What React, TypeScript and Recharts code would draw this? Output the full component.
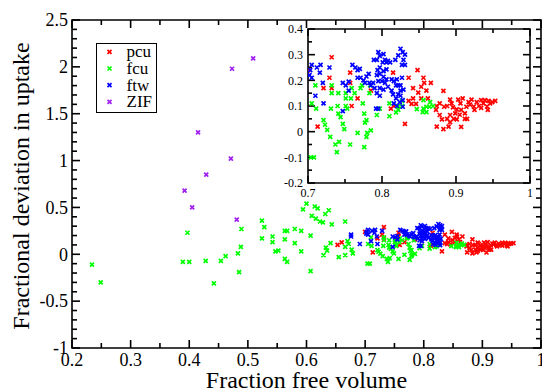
import React from 'react';
import { ScatterChart, Scatter, XAxis, YAxis, Legend, CartesianGrid, ReferenceArea } from 'recharts';

const SERIF = '"Liberation Serif", "Times New Roman", serif';

// data: [fraction free volume, fractional deviation]
const pcu = [
  [0.653, 0.1], [0.66, 0.128], [0.7, 0.24], [0.713, 0.02], [0.721, 0.17], [0.729, 0.21], [0.732, 0.29],
  [0.732, 0.17], [0.757, 0.23], [0.757, 0.19], [0.759, 0.1], [0.767, 0.13], [0.785, 0.16], [0.815, 0.23],
  [0.812, 0.09], [0.816, 0.1], [0.831, 0.03], [0.836, 0.21], [0.848, 0.24], [0.842, 0.17], [0.856, 0.21],
  [0.857, 0.19], [0.866, 0.19], [0.853, 0.175], [0.86, 0.16], [0.849, 0.152], [0.842, 0.13], [0.853, 0.13],
  [0.862, 0.13], [0.84, 0.108], [0.846, 0.108], [0.836, 0.12], [0.883, 0.159], [0.874, 0.1], [0.878, 0.11],
  [0.873, 0.085], [0.874, 0.02], [0.892, 0.125], [0.894, 0.11], [0.888, 0.1], [0.884, 0.097], [0.896, 0.095],
  [0.899, 0.071], [0.892, 0.065], [0.888, 0.05], [0.878, 0.065], [0.881, 0.048], [0.883, 0.01], [0.89, 0.02],
  [0.892, 0.037], [0.901, 0.048], [0.903, 0.125], [0.906, 0.11], [0.909, 0.13], [0.907, 0.085], [0.907, 0.019],
  [0.912, 0.05], [0.915, 0.05], [0.905, 0.066], [0.914, 0.097], [0.917, 0.115], [0.919, 0.105], [0.921, 0.125],
  [0.924, 0.098], [0.928, 0.115], [0.931, 0.1], [0.934, 0.123], [0.937, 0.11], [0.939, 0.123], [0.942, 0.098],
  [0.944, 0.12], [0.946, 0.11], [0.949, 0.115], [0.953, 0.12], [0.943, 0.085], [0.934, 0.093], [0.925, 0.085],
  [0.901, 0.087], [0.912, 0.071], [0.897, 0.05],
];

const fcu = [
  [0.234, -0.11], [0.249, -0.3], [0.389, -0.08], [0.4, -0.08], [0.397, 0.23], [0.428, -0.07], [0.442, -0.31],
  [0.454, -0.07], [0.462, -0.02], [0.483, 0.01], [0.485, -0.19], [0.488, 0.08], [0.489, 0.27], [0.524, 0.36],
  [0.528, 0.29], [0.524, 0.17], [0.542, 0.19], [0.542, 0.13], [0.547, 0.03], [0.552, 0.04], [0.563, 0.25],
  [0.567, 0.25], [0.563, 0.16], [0.563, -0.05], [0.567, -0.08], [0.58, 0.27], [0.58, 0.12], [0.591, 0.25],
  [0.591, 0.03], [0.594, 0.48], [0.6, 0.54], [0.607, 0.2], [0.607, -0.18], [0.609, 0.41], [0.614, 0.51],
  [0.619, 0.49], [0.616, 0.38], [0.623, 0.35], [0.628, 0.34], [0.632, 0.43], [0.638, 0.47], [0.643, 0.32],
  [0.633, 0.07], [0.635, 0.04], [0.641, 0.12], [0.629, -0.01], [0.655, -0.03], [0.666, 0.35], [0.666, 0.08],
  [0.666, -0.01], [0.67, 0.14], [0.672, 0.11], [0.677, 0.05], [0.679, 0.01],
  [0.704, -0.1], [0.708, -0.1], [0.705, 0.11], [0.711, 0.09], [0.71, 0.18], [0.721, 0.045], [0.723, 0.027],
  [0.726, 0.007], [0.73, -0.02], [0.732, 0.18], [0.732, 0.15], [0.731, 0.09], [0.737, -0.05], [0.742, -0.04],
  [0.739, -0.08], [0.741, 0.15], [0.74, 0.1], [0.741, 0.07], [0.744, 0.057], [0.747, 0.03], [0.749, 0.01],
  [0.751, 0.1], [0.751, 0.13], [0.751, 0.15], [0.753, 0.09], [0.758, 0.13], [0.757, -0.05], [0.759, 0.17],
  [0.763, 0.15], [0.767, -0.005], [0.771, 0.17], [0.773, 0.18], [0.774, 0.11], [0.776, 0.07], [0.776, -0.06],
  [0.777, 0.035], [0.779, 0.045], [0.779, -0.02], [0.78, -0.005], [0.783, 0.15], [0.785, 0.005], [0.784, 0.18],
  [0.793, 0.065], [0.797, 0.09], [0.81, 0.06], [0.81, 0.11], [0.819, 0.075], [0.822, 0.085], [0.822, 0.1],
  [0.827, 0.12], [0.827, 0.1], [0.847, 0.088], [0.856, 0.123], [0.856, 0.09], [0.86, 0.076], [0.864, 0.097],
  [0.865, 0.115], [0.869, 0.1], [0.855, 0.076], [0.86, 0.097],
];

const ftw = [
  [0.676, 0.21], [0.676, 0.19], [0.691, 0.11], [0.702, 0.22], [0.705, 0.21], [0.705, 0.26], [0.703, 0.24],
  [0.712, 0.25], [0.717, 0.26], [0.716, 0.23], [0.72, 0.19], [0.721, 0.11], [0.71, 0.14], [0.729, 0.25],
  [0.747, 0.19], [0.747, 0.08], [0.751, 0.18], [0.755, 0.16], [0.755, 0.195], [0.76, 0.26], [0.764, 0.25],
  [0.767, 0.24], [0.767, 0.21], [0.771, 0.21], [0.77, 0.245], [0.775, 0.2], [0.779, 0.215], [0.782, 0.225],
  [0.777, 0.19], [0.783, 0.19], [0.785, 0.18], [0.789, 0.28], [0.793, 0.28], [0.795, 0.31], [0.797, 0.295],
  [0.802, 0.302], [0.801, 0.27], [0.804, 0.28], [0.806, 0.27], [0.808, 0.276], [0.811, 0.27], [0.794, 0.24],
  [0.797, 0.25], [0.802, 0.236], [0.806, 0.243], [0.793, 0.22], [0.797, 0.225], [0.802, 0.214], [0.806, 0.204],
  [0.795, 0.197], [0.8, 0.197], [0.804, 0.19], [0.788, 0.19], [0.79, 0.17], [0.797, 0.17], [0.802, 0.164],
  [0.808, 0.175], [0.793, 0.15], [0.797, 0.14], [0.792, 0.09], [0.795, 0.09], [0.813, 0.204], [0.816, 0.197],
  [0.82, 0.204], [0.819, 0.18], [0.822, 0.18], [0.825, 0.18], [0.827, 0.21], [0.818, 0.28], [0.822, 0.297],
  [0.825, 0.323], [0.828, 0.31], [0.831, 0.3], [0.829, 0.28], [0.831, 0.26], [0.827, 0.26], [0.815, 0.145],
  [0.819, 0.13], [0.822, 0.145], [0.825, 0.14], [0.828, 0.123], [0.824, 0.115], [0.828, 0.097], [0.816, 0.11],
  [0.82, 0.1], [0.825, 0.16], [0.829, 0.164], [0.813, 0.16],
];

const zif = [
  [0.392, 0.68], [0.405, 0.5], [0.415, 1.3], [0.429, 0.85], [0.471, 1.02], [0.473, 1.98], [0.481, 0.37], [0.509, 2.09],
];

const seriesNames = ['pcu', 'fcu', 'ftw', 'ZIF'];
const seriesColors = ['#ff0000', '#00ff00', '#0000ff', '#a020f0'];
const seriesData = [pcu, fcu, ftw, zif];

const mainXTicks = [0.2, 0.25, 0.3, 0.35, 0.4, 0.45, 0.5, 0.55, 0.6, 0.65, 0.7, 0.75, 0.8, 0.85, 0.9, 0.95, 1];
const mainYTicks = [
  -1, -0.9, -0.8, -0.7, -0.6, -0.5, -0.4, -0.3, -0.2, -0.1, 0, 0.1, 0.2, 0.3, 0.4, 0.5, 0.6, 0.7, 0.8, 0.9,
  1, 1.1, 1.2, 1.3, 1.4, 1.5, 1.6, 1.7, 1.8, 1.9, 2, 2.1, 2.2, 2.3, 2.4, 2.5,
];
const insetXTicks = [0.7, 0.75, 0.8, 0.85, 0.9, 0.95, 1];
const insetYTicks = [-0.2, -0.15, -0.1, -0.05, 0, 0.05, 0.1, 0.15, 0.2, 0.25, 0.3, 0.35, 0.4];

const xTitle = 'Fraction free volume';
const yTitle = 'Fractional deviation in uptake';

const INK = '#000';

const every = (step: number) => (v: number) => Math.abs(v / step - Math.round(v / step)) < 1e-6;
const fmt = (v: number) => String(Number(v.toFixed(2)));

// tick labels only (major ticks); the tick marks are drawn as reference areas
const makeLabel = (side: string, isMajor: (v: number) => boolean, font: number, off: number) =>
  (p: any) => {
    const x = Number(p.x);
    const y = Number(p.y);
    const v = p.payload.value;
    if (!isMajor(v)) return <g />;
    return side === 'bottom'
      ? <text x={x} y={y + off} textAnchor="middle" fontSize={font} fontFamily={SERIF} fill={INK}>{fmt(v)}</text>
      : <text x={x - off} y={y} dy="0.35em" textAnchor="end" fontSize={font} fontFamily={SERIF} fill={INK}>{fmt(v)}</text>;
  };

// inward tick marks on all four sides, as thin filled areas in data units
const tickMarks = (
  id: string, xs: number[], ys: number[], xDom: number[], yDom: number[],
  xMajor: (v: number) => boolean, yMajor: (v: number) => boolean,
  perPxX: number, perPxY: number, big: number, small: number,
) => {
  const out: any[] = [];
  const hx = 0.8 * perPxX;
  const hy = 0.8 * perPxY;
  const common = { xAxisId: 'b', yAxisId: 'l', fill: INK, fillOpacity: 1, stroke: 'none', ifOverflow: 'visible' as const };
  xs.forEach(v => {
    const len = (xMajor(v) ? big : small) * perPxY;
    out.push(<ReferenceArea key={`${id}xb${v}`} {...common} x1={v - hx} x2={v + hx} y1={yDom[0]} y2={yDom[0] + len} />);
    out.push(<ReferenceArea key={`${id}xt${v}`} {...common} x1={v - hx} x2={v + hx} y1={yDom[1] - len} y2={yDom[1]} />);
  });
  ys.forEach(v => {
    const len = (yMajor(v) ? big : small) * perPxX;
    out.push(<ReferenceArea key={`${id}yl${v}`} {...common} x1={xDom[0]} x2={xDom[0] + len} y1={v - hy} y2={v + hy} />);
    out.push(<ReferenceArea key={`${id}yr${v}`} {...common} x1={xDom[1] - len} x2={xDom[1]} y1={v - hy} y2={v + hy} />);
  });
  return out;
};

const cross = (color: string, r: number) => (p: any) => {
  const { cx, cy } = p;
  if (cx == null || cy == null) return <g />;
  return (
    <path
      d={`M${cx - r},${cy - r}L${cx + r},${cy + r}M${cx - r},${cy + r}L${cx + r},${cy - r}`}
      stroke={color}
      strokeWidth={1.7}
    />
  );
};

const LegendBox = () => (
  <div style={{ width: 61, height: 70, boxSizing: 'border-box', border: '1.5px solid #000', background: '#fff' }}>
    <svg width={58} height={67} style={{ display: 'block', overflow: 'visible' }}>
      {seriesNames.map((name, i) => {
        const cy = 7.8 + i * 16.7;
        return (
          <g key={name}>
            {cross(seriesColors[i], 2)({ cx: 12.5, cy })}
            <text x={29.5} y={cy + 5.5} fontSize={17} fontFamily={SERIF} fill={INK}>{name}</text>
          </g>
        );
      })}
    </svg>
  </div>
);

const XTitle = (p: any) => {
  const vb = p.viewBox;
  return (
    <text x={vb.x + vb.width / 2} y={388} textAnchor="middle" fontSize={24} fontFamily={SERIF} fill={INK}>
      {xTitle}
    </text>
  );
};

const YTitle = (p: any) => {
  const vb = p.viewBox;
  const cx = 29;
  const cy = vb.y + vb.height / 2 + 2;
  return (
    <text x={cx} y={cy} transform={`rotate(-90 ${cx} ${cy})`} textAnchor="middle" fontSize={24} fontFamily={SERIF} fill={INK}>
      {yTitle}
    </text>
  );
};

export default function App() {
  const pts = seriesData.map(s => s.map(([x, y]) => ({ x, y })));
  const insetPts = pts.map(s => s.filter(d => d.x >= 0.7 && d.x <= 1 && d.y >= -0.2 && d.y <= 0.4));

  return (
    <div style={{ position: 'absolute', left: 0, top: 0, width: 542, height: 390, background: '#fff' }}>
      <ScatterChart width={542} height={390} margin={{ top: 20, right: 1, bottom: 0, left: 0 }}>
        <XAxis
          xAxisId="b" type="number" dataKey="x" domain={[0.2, 1]} ticks={mainXTicks} interval={0}
          orientation="bottom" height={42} tickSize={0} tickMargin={0} tickLine={false} axisLine={false}
          tick={makeLabel('bottom', every(0.1), 18, 18)} allowDataOverflow label={<XTitle />}
        />
        <YAxis
          yAxisId="l" type="number" dataKey="y" domain={[-1, 2.5]} ticks={mainYTicks} interval={0}
          width={72} tickSize={0} tickMargin={0} tickLine={false} axisLine={false}
          tick={makeLabel('left', every(0.5), 18, 4)} allowDataOverflow label={<YTitle />}
        />
        {/* plot frame */}
        <ReferenceArea
          xAxisId="b" yAxisId="l" x1={0.2} x2={1} y1={-1} y2={2.5}
          fill="none" fillOpacity={0} stroke={INK} strokeWidth={1.6} ifOverflow="visible"
        />
        {tickMarks('m', mainXTicks, mainYTicks, [0.2, 1], [-1, 2.5], every(0.1), every(0.5), 0.8 / 469, 3.5 / 328, 8, 5)}
        <Legend
          layout="vertical" align="center" verticalAlign="middle"
          wrapperStyle={{ left: 96, top: 43, width: 61, height: 70 }}
          content={() => <LegendBox />}
        />
        {seriesNames.map((name, i) => (
          <Scatter
            key={name} name={name} xAxisId="b" yAxisId="l" data={pts[i]} fill={seriesColors[i]}
            shape={cross(seriesColors[i], 2)} isAnimationActive={false}
          />
        ))}
      </ScatterChart>

      <div style={{ position: 'absolute', left: 270, top: 20 }}>
        <ScatterChart width={272} height={185} margin={{ top: 9, right: 12, bottom: 0, left: 0 }}>
          <CartesianGrid xAxisId="b" yAxisId="l" horizontal={false} vertical={false} fill="#fff" />
          <XAxis
            xAxisId="b" type="number" dataKey="x" domain={[0.7, 1]} ticks={insetXTicks} interval={0}
            orientation="bottom" height={22} tickSize={0} tickMargin={0} tickLine={false} axisLine={false}
            tick={makeLabel('bottom', every(0.1), 12, 14)} allowDataOverflow
          />
          <YAxis
            yAxisId="l" type="number" dataKey="y" domain={[-0.2, 0.4]} ticks={insetYTicks} interval={0}
            width={38} tickSize={0} tickMargin={0} tickLine={false} axisLine={false}
            tick={makeLabel('left', every(0.1), 12, 5)} allowDataOverflow
          />
          <ReferenceArea
            xAxisId="b" yAxisId="l" x1={0.7} x2={1} y1={-0.2} y2={0.4}
            fill="none" fillOpacity={0} stroke={INK} strokeWidth={1.6} ifOverflow="visible"
          />
          {tickMarks('i', insetXTicks, insetYTicks, [0.7, 1], [-0.2, 0.4], every(0.1), every(0.1), 0.3 / 222, 0.6 / 154, 7, 4)}
          {seriesNames.map((name, i) => (
            <Scatter
              key={name} name={name} xAxisId="b" yAxisId="l" data={insetPts[i]} fill={seriesColors[i]}
              shape={cross(seriesColors[i], 2)} isAnimationActive={false}
            />
          ))}
        </ScatterChart>
      </div>
    </div>
  );
}
